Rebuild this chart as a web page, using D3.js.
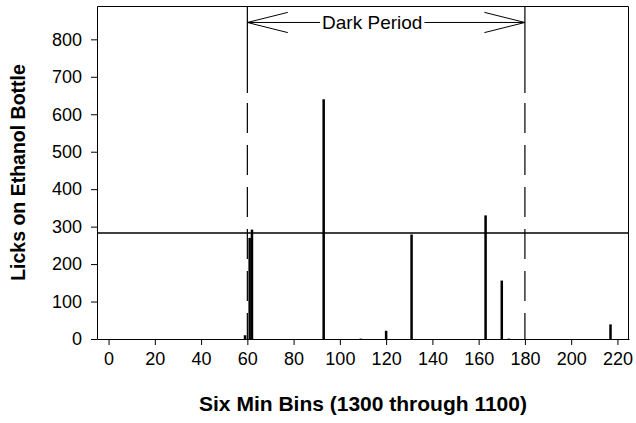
<!DOCTYPE html>
<html>
<head>
<meta charset="utf-8">
<script src="https://cdn.jsdelivr.net/npm/d3@7"></script>
<style>
    body { margin: 0; background: #fff; }
    svg { display: block; font-family: Arial, "Liberation Sans", sans-serif; }
    .axis path, .axis line { stroke: #000; stroke-width: 1; }
    .axis text { font-size: 18px; fill: #000; }
    .title { font-weight: bold; fill: #000; }
</style>
</head>
<body>
<div id="chart"></div>
<script>

// bins (6 min each) and lick counts
var bins   = [59, 61, 62, 93, 109, 120, 131, 163, 170, 173, 217];
var licks  = [10, 270, 292, 640, 1, 22, 279, 330, 156, 1, 39];

var xTicks = [0, 20, 40, 60, 80, 100, 120, 140, 160, 180, 200, 220];
var yTicks = [0, 100, 200, 300, 400, 500, 600, 700, 800];

var darkStart = 60, darkEnd = 180, darkLabel = "Dark Period";
var refLine = 283;

var w = 636, h = 423
    , margin = {top: 6, right: 7, bottom: 84, left: 97}
    , width = w - margin.left - margin.right
    , height = h - margin.top - margin.bottom;

var svg = d3.select("#chart")
    .append("svg")
    .attr("width", w)
    .attr("height", h);

var g = svg.append("g").attr("transform", "translate(" + margin.left + "," + margin.top + ")");

var x = d3.scaleLinear()
    .domain([-5, 225])
    .range([0, width]);

var y = d3.scaleLinear()
    .domain([0, 889])
    .range([height, 0]);

var xAxis = d3.axisBottom(x)
    .tickValues(xTicks)
    .tickSizeInner(6)
    .tickSizeOuter(0)
    .tickPadding(7);

var yAxis = d3.axisLeft(y)
    .tickValues(yTicks)
    .tickSizeInner(6)
    .tickSizeOuter(0)
    .tickPadding(9);

g.append("g")
    .attr("class", "axis axis--x")
    .attr("transform", "translate(0," + height + ")")
    .call(xAxis);

g.append("g")
    .attr("class", "axis axis--y")
    .call(yAxis);

// top and right frame
g.append("path")
    .attr("d", "M0.5,0.5H" + (width - 0.5) + "V" + height)
    .attr("fill", "none")
    .attr("stroke", "#000")
    .attr("stroke-width", 1);

// horizontal reference line
g.append("line")
    .attr("x1", 0).attr("x2", width)
    .attr("y1", y(refLine)).attr("y2", y(refLine))
    .attr("stroke", "#000")
    .attr("stroke-width", 1.3);

// dark period boundaries: solid at top, dashed below
var solidTo = 657;
[darkStart, darkEnd].forEach(function(v){
    g.append("line")
        .attr("x1", x(v)).attr("x2", x(v))
        .attr("y1", 0).attr("y2", y(solidTo))
        .attr("stroke", "#000")
        .attr("stroke-width", 1.2);
    g.append("line")
        .attr("x1", x(v)).attr("x2", x(v))
        .attr("y1", y(solidTo)).attr("y2", height)
        .attr("stroke", "#000")
        .attr("stroke-width", 1.2)
        .attr("stroke-dasharray", "30,12")
        .attr("stroke-dashoffset", 32);
});

// bars
g.append("g")
    .attr("class", "bars")
    .selectAll("rect")
    .data(bins)
    .enter()
    .append("rect")
    .attr("x", d => x(d) - 1.25)
    .attr("width", 2.5)
    .attr("y", (d, i) => y(licks[i]))
    .attr("height", (d, i) => height - y(licks[i]))
    .attr("fill", "#000");

// dark period arrow
var arrowY = 845, armY = 27, armX = 17.5, labelX = 114;

var label = g.append("text")
    .attr("x", x(labelX))
    .attr("y", y(arrowY))
    .attr("dy", "0.35em")
    .attr("text-anchor", "middle")
    .style("font-size", "19px")
    .text(darkLabel);

var half = label.node().getComputedTextLength() / 2 + 2;

var arrow = g.append("g")
    .attr("fill", "none")
    .attr("stroke", "#000")
    .attr("stroke-width", 1);

arrow.append("path")
    .attr("d", "M" + x(darkStart + armX) + "," + y(arrowY + armY)
        + "L" + x(darkStart) + "," + y(arrowY)
        + "L" + x(darkStart + armX) + "," + y(arrowY - armY)
        + "M" + x(darkStart) + "," + y(arrowY)
        + "H" + (x(labelX) - half));

arrow.append("path")
    .attr("d", "M" + x(darkEnd - armX) + "," + y(arrowY + armY)
        + "L" + x(darkEnd) + "," + y(arrowY)
        + "L" + x(darkEnd - armX) + "," + y(arrowY - armY)
        + "M" + x(darkEnd) + "," + y(arrowY)
        + "H" + (x(labelX) + half));

// axis titles
svg.append("text")
    .attr("class", "title")
    .attr("x", margin.left + width / 2)
    .attr("y", 411)
    .attr("text-anchor", "middle")
    .style("font-size", "21px")
    .text("Six Min Bins (1300 through 1100)");

svg.append("text")
    .attr("class", "title")
    .attr("transform", "translate(25," + (margin.top + height / 2) + ") rotate(-90)")
    .attr("text-anchor", "middle")
    .style("font-size", "19.5px")
    .text("Licks on Ethanol Bottle");

</script>
</body>
</html>
